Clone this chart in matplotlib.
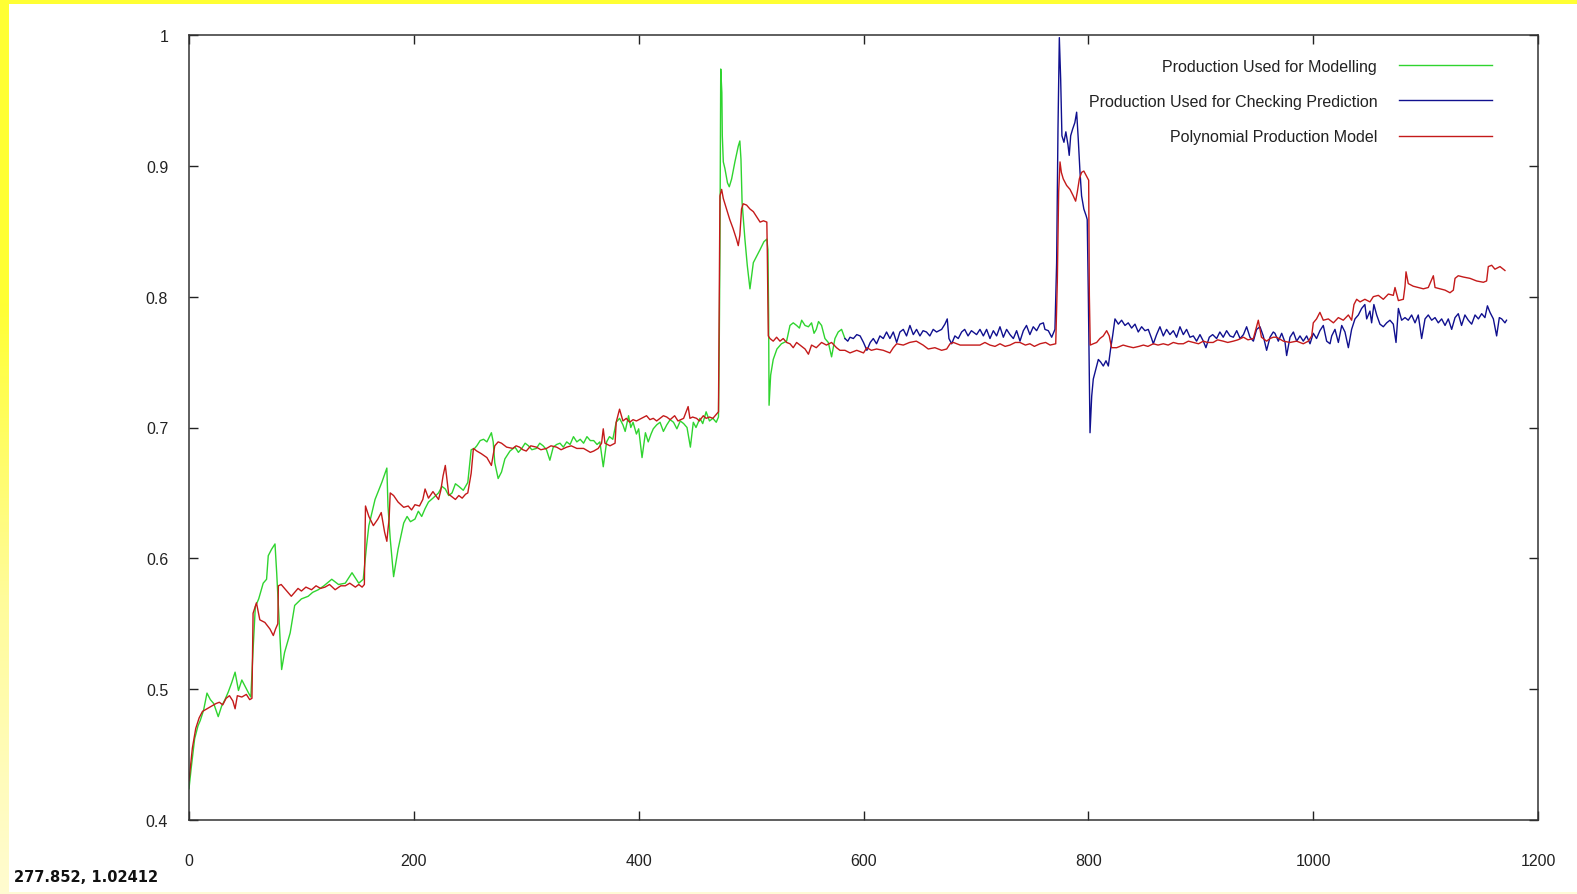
"""
Production vs polynomial production model (gnuplot-style output).
"""

import numpy as np
import matplotlib
matplotlib.use("Agg")
import matplotlib.pyplot as plt
from matplotlib.patches import Rectangle
from matplotlib.ticker import FuncFormatter, MultipleLocator

# ─── Data ─────────────────────────────────────────────────────────────────────
# (x, y) pairs
modelling_pts = [
    (0, 0.424), (2, 0.44), (5, 0.462), (8, 0.472), (10, 0.476), (13, 0.484),
    (16, 0.497), (19, 0.492), (22, 0.489), (26, 0.479), (29, 0.487), (32, 0.492),
    (35, 0.498), (38, 0.505), (41, 0.513), (44, 0.499), (47, 0.507), (50, 0.502),
    (53, 0.497), (55, 0.494), (57, 0.53), (59, 0.563), (62, 0.569), (66, 0.581),
    (69, 0.584), (70.5, 0.602), (73.5, 0.607), (76.5, 0.611), (78, 0.589),
    (81, 0.538), (82.4, 0.515), (85, 0.528), (90, 0.543), (94, 0.564),
    (100, 0.569), (106, 0.571), (110, 0.574), (115, 0.576), (120, 0.579),
    (127, 0.584), (133, 0.580), (139, 0.581), (145, 0.589), (151, 0.581),
    (155, 0.584), (158, 0.61), (160, 0.625), (165.5, 0.645), (171.5, 0.658),
    (176, 0.669), (177, 0.64), (179, 0.615), (182, 0.586), (186, 0.607),
    (191, 0.627), (194, 0.632), (197, 0.628), (201, 0.630), (204, 0.636),
    (207, 0.632), (210, 0.638), (213, 0.643), (217, 0.646), (222, 0.650),
    (225, 0.655), (228, 0.653), (231, 0.648), (234, 0.650), (237, 0.657),
    (240, 0.655), (244, 0.652), (248, 0.658), (251, 0.683), (254, 0.684),
    (256, 0.686), (259, 0.690), (262, 0.691), (265, 0.689), (269, 0.696),
    (270.6, 0.689), (272, 0.673), (275, 0.661), (278, 0.666), (281, 0.676),
    (285.5, 0.682), (290, 0.685), (293, 0.681), (296, 0.684), (299, 0.688),
    (302, 0.686), (305, 0.683), (309, 0.684), (312, 0.688), (315, 0.686),
    (318, 0.683), (321, 0.675), (324, 0.685), (327, 0.687), (330, 0.688),
    (333, 0.685), (336, 0.689), (339, 0.687), (342, 0.693), (345, 0.689),
    (348, 0.691), (351, 0.688), (354, 0.693), (357, 0.690), (360, 0.690),
    (363, 0.687), (365.5, 0.689), (368.5, 0.670), (371.5, 0.689), (374, 0.693),
    (377, 0.691), (380, 0.704), (383, 0.707), (386, 0.702), (388, 0.697),
    (391, 0.709), (393, 0.700), (395, 0.704), (398, 0.695), (400, 0.699),
    (403, 0.677), (406, 0.696), (408.5, 0.689), (411, 0.695), (413, 0.699),
    (416, 0.702), (419, 0.704), (422, 0.697), (425, 0.702), (428, 0.706),
    (431, 0.704), (434, 0.699), (437, 0.705), (440, 0.703), (443, 0.700),
    (446, 0.685), (448.6, 0.704), (451, 0.700), (454.5, 0.707), (457, 0.703),
    (460, 0.712), (463, 0.705), (466, 0.707), (469, 0.704), (471, 0.708),
    (471.7, 0.765), (472.3, 0.837), (473, 0.974), (474, 0.956), (474.4, 0.923),
    (475.3, 0.903), (476.7, 0.898), (479, 0.887), (480.6, 0.884), (482.7, 0.890),
    (485.6, 0.903), (488.6, 0.915), (490, 0.919), (491, 0.905), (492, 0.872),
    (494.5, 0.844), (496.6, 0.824), (499, 0.806), (502, 0.826), (505, 0.831),
    (508, 0.836), (511.4, 0.842), (514, 0.844), (515, 0.836), (515.6, 0.786),
    (516, 0.717), (517.4, 0.740), (519.7, 0.752), (523, 0.760), (527, 0.764),
    (531.6, 0.766), (534.6, 0.778), (537.5, 0.780), (540.5, 0.778), (543, 0.776),
    (545, 0.782), (548, 0.778), (551, 0.777), (553.8, 0.780), (556, 0.772),
    (558, 0.775), (560, 0.781), (562.7, 0.778), (565.7, 0.768), (568.7, 0.765),
    (571.6, 0.754), (574.6, 0.768), (577.5, 0.773), (580.5, 0.775), (583.5, 0.768),
]

checking_pts = [
    (583.5, 0.768), (586, 0.766), (588, 0.769), (591, 0.768), (594, 0.771),
    (597, 0.770), (600, 0.765), (603, 0.759), (606, 0.765), (608.7, 0.768),
    (611.6, 0.764), (614.6, 0.770), (617.6, 0.768), (620.5, 0.773), (623.5, 0.768),
    (626.5, 0.773), (629.5, 0.765), (632.4, 0.773), (635.4, 0.775), (638.3, 0.770),
    (641.3, 0.778), (644.3, 0.771), (647.2, 0.775), (650.2, 0.770), (653, 0.774),
    (656, 0.773), (659, 0.770), (662, 0.775), (665, 0.773), (669.5, 0.775),
    (672.4, 0.779), (674.5, 0.783), (676, 0.768), (678.4, 0.764), (681.3, 0.770),
    (684.3, 0.768), (687.3, 0.773), (690, 0.775), (693, 0.770), (696, 0.774),
    (700.6, 0.771), (703.6, 0.775), (706.6, 0.770), (709.5, 0.775), (712.5, 0.768),
    (715.5, 0.774), (718.4, 0.770), (721.4, 0.777), (724.4, 0.769), (727.3, 0.775),
    (730.3, 0.771), (733.3, 0.768), (736.2, 0.774), (739.2, 0.766), (742.2, 0.774),
    (745, 0.778), (748, 0.771), (751, 0.777), (754, 0.774), (757, 0.779),
    (760, 0.780), (761.4, 0.775), (764.4, 0.774), (767.4, 0.769), (770.3, 0.775),
    (771.8, 0.826), (773, 0.928), (774.2, 0.998), (775.4, 0.966), (776.5, 0.923),
    (778.3, 0.918), (780, 0.926), (781.9, 0.916), (783, 0.908), (784.3, 0.923),
    (786, 0.928), (788, 0.933), (789.6, 0.941), (791, 0.921), (792.6, 0.895),
    (794, 0.877), (796, 0.867), (798, 0.862), (799, 0.859), (800, 0.801),
    (801.5, 0.696), (803, 0.724), (804.4, 0.737), (806.8, 0.745), (808.9, 0.752),
    (811, 0.750), (813.3, 0.747), (815.7, 0.751), (817.8, 0.747), (819.8, 0.760),
    (821.6, 0.770), (823.7, 0.783), (826.7, 0.779), (829.6, 0.782), (832.6, 0.778),
    (835.5, 0.780), (838.5, 0.776), (841.5, 0.779), (844.4, 0.773), (847.4, 0.777),
    (850.4, 0.774), (853.3, 0.775), (856.3, 0.768), (857.8, 0.764), (860.7, 0.771),
    (863.7, 0.777), (866.7, 0.770), (869.6, 0.775), (872.6, 0.771), (875.6, 0.774),
    (878.5, 0.769), (881.5, 0.777), (884.5, 0.771), (887.4, 0.775), (890.4, 0.769),
    (893.4, 0.770), (896.3, 0.766), (899.3, 0.771), (902.3, 0.766), (904.6, 0.761),
    (907.6, 0.769), (910.6, 0.771), (914.1, 0.768), (917, 0.773), (920, 0.769),
    (923, 0.774), (926, 0.770), (929, 0.769), (932, 0.774), (935, 0.768),
    (938, 0.771), (940.8, 0.777), (943.8, 0.769), (946.8, 0.766), (949.7, 0.775),
    (952.7, 0.777), (955.6, 0.770), (958.6, 0.759), (961.6, 0.769), (964.5, 0.773),
    (966, 0.772), (969, 0.766), (972, 0.772), (975, 0.765), (976.4, 0.755),
    (979.4, 0.769), (982.4, 0.773), (985.3, 0.766), (988.3, 0.770), (991.2, 0.766),
    (994.2, 0.770), (997.2, 0.764), (1000.1, 0.772), (1003, 0.768), (1006, 0.774),
    (1009, 0.778), (1012, 0.766), (1015, 0.764), (1016.5, 0.770), (1019.4, 0.775),
    (1022.4, 0.765), (1025.4, 0.778), (1028.3, 0.773), (1031.3, 0.761), (1034.2, 0.775),
    (1037.2, 0.783), (1040.2, 0.786), (1043.1, 0.791), (1046, 0.794), (1047.6, 0.783),
    (1050.5, 0.789), (1052, 0.780), (1054, 0.794), (1056.5, 0.786), (1059.4, 0.779),
    (1062.4, 0.777), (1065.4, 0.780), (1068.3, 0.782), (1071.3, 0.779), (1073.7, 0.765),
    (1075.8, 0.791), (1078.7, 0.782), (1081.7, 0.784), (1084.6, 0.782), (1087.6, 0.786),
    (1090.6, 0.780), (1093.5, 0.786), (1096.5, 0.768), (1099.5, 0.783), (1102.4, 0.786),
    (1105.4, 0.782), (1108.4, 0.784), (1111.3, 0.780), (1114.3, 0.783), (1117.3, 0.778),
    (1120.2, 0.783), (1123.2, 0.775), (1126.2, 0.784), (1129.1, 0.787), (1132, 0.778),
    (1135, 0.786), (1138, 0.782), (1141, 0.779), (1144, 0.786), (1147, 0.783),
    (1149.9, 0.787), (1152.8, 0.784), (1155, 0.793), (1157.3, 0.788), (1160.3, 0.783),
    (1163.2, 0.770), (1165.6, 0.784), (1167.7, 0.783), (1170.6, 0.780), (1172, 0.782),
]

model_pts = [
    (0, 0.43), (3, 0.455), (6, 0.47), (9, 0.478), (12, 0.483), (16, 0.485),
    (20, 0.487), (24, 0.489), (27, 0.490), (30, 0.488), (33, 0.493), (36, 0.495),
    (39, 0.491), (41, 0.485), (43, 0.495), (47, 0.494), (51, 0.496), (54, 0.492),
    (56, 0.493), (57, 0.558), (60, 0.566), (63, 0.553), (67.5, 0.551), (72, 0.546),
    (75, 0.541), (77, 0.546), (79, 0.55), (79.5, 0.579), (82, 0.580), (85, 0.577),
    (88, 0.574), (91, 0.571), (94, 0.574), (97, 0.577), (100, 0.575), (104, 0.578),
    (109, 0.576), (113, 0.579), (117, 0.577), (121, 0.578), (125, 0.580), (130, 0.576),
    (135, 0.579), (139, 0.579), (143, 0.581), (148, 0.578), (151, 0.580), (154, 0.578),
    (156, 0.58), (157, 0.640), (160, 0.632), (164, 0.625), (168, 0.630), (171, 0.635),
    (174, 0.620), (176, 0.613), (177, 0.622), (178, 0.63), (179, 0.650), (182, 0.648),
    (186, 0.643), (191, 0.639), (195, 0.640), (198, 0.637), (201, 0.641), (205, 0.640),
    (208, 0.645), (210, 0.653), (213, 0.646), (217, 0.651), (222, 0.645), (224, 0.652),
    (226, 0.663), (228, 0.671), (231, 0.649), (234, 0.647), (237, 0.645), (240, 0.648),
    (243, 0.646), (246, 0.649), (248, 0.650), (251, 0.665), (253, 0.684), (256, 0.682),
    (260, 0.680), (265, 0.677), (269, 0.671), (270.6, 0.679), (272, 0.686), (275, 0.689),
    (278, 0.688), (282.5, 0.685), (288, 0.684), (291, 0.686), (294, 0.685), (297, 0.683),
    (300, 0.682), (304, 0.686), (309, 0.685), (313, 0.683), (318, 0.684), (322, 0.686),
    (327, 0.685), (331, 0.683), (336, 0.685), (340, 0.686), (345, 0.684), (351, 0.684),
    (357, 0.681), (360, 0.682), (364, 0.684), (367, 0.688), (368.5, 0.699), (370, 0.688),
    (374.5, 0.686), (379, 0.688), (380, 0.704), (383, 0.714), (386, 0.705), (389, 0.707),
    (392, 0.704), (395, 0.706), (398, 0.705), (402.6, 0.707), (407, 0.709), (410, 0.706),
    (413, 0.707), (416, 0.705), (419, 0.707), (422, 0.709), (425, 0.708), (428, 0.706),
    (432, 0.709), (435, 0.705), (440, 0.707), (444, 0.716), (445.6, 0.707), (448, 0.708),
    (451.5, 0.707), (454, 0.705), (457.5, 0.709), (460, 0.707), (463, 0.708), (466, 0.707),
    (468, 0.709), (471, 0.712), (472.3, 0.877), (473.8, 0.882), (475.3, 0.875),
    (478.2, 0.867), (481, 0.859), (484, 0.852), (487, 0.844), (488.6, 0.839), (490, 0.847),
    (491.5, 0.867), (493, 0.871), (496, 0.870), (499, 0.867), (502, 0.865), (505, 0.861),
    (508, 0.857), (511, 0.858), (514, 0.857), (514.4, 0.836), (515.3, 0.770),
    (516.8, 0.768), (519.7, 0.766), (522.7, 0.769), (525.7, 0.766), (528.6, 0.768),
    (531.6, 0.765), (534.6, 0.764), (537.5, 0.761), (540.5, 0.765), (543.5, 0.763),
    (548, 0.760), (551, 0.756), (553.8, 0.763), (558, 0.761), (562.7, 0.765), (567, 0.763),
    (571.6, 0.765), (576, 0.761), (579, 0.759), (583.5, 0.759), (588, 0.757), (594, 0.759),
    (600, 0.757), (603, 0.761), (607, 0.759), (611.6, 0.760), (617.6, 0.759), (623.5, 0.757),
    (626.5, 0.761), (629.5, 0.764), (635.4, 0.763), (641, 0.765), (647, 0.766), (653, 0.763),
    (657.6, 0.760), (663.5, 0.761), (669.5, 0.759), (674, 0.760), (677, 0.764), (680, 0.765),
    (686, 0.763), (691.7, 0.763), (700.6, 0.763), (703.6, 0.763), (708, 0.765),
    (712.5, 0.763), (717, 0.762), (721.4, 0.764), (726, 0.762), (730.3, 0.763), (735, 0.765),
    (739.2, 0.765), (744, 0.763), (748, 0.764), (752, 0.762), (757, 0.764), (762, 0.765),
    (766, 0.763), (771, 0.764), (772.4, 0.811), (773.6, 0.880), (774.8, 0.903), (776, 0.895),
    (777.7, 0.890), (780.7, 0.885), (783.7, 0.882), (786.6, 0.877), (788.7, 0.873),
    (790.2, 0.880), (792, 0.890), (794, 0.895), (796, 0.896), (798.5, 0.892), (800.3, 0.889),
    (800.9, 0.801), (801.7, 0.763), (804.4, 0.764), (807.4, 0.765), (810.3, 0.768),
    (813.3, 0.770), (816.3, 0.774), (818.6, 0.770), (820.7, 0.761), (825.2, 0.761),
    (831, 0.763), (835, 0.762), (840, 0.761), (845, 0.762), (849, 0.763), (853, 0.762),
    (857.8, 0.764), (862, 0.763), (866.7, 0.764), (871, 0.763), (875.6, 0.765), (880, 0.764),
    (884.5, 0.764), (889, 0.766), (893.4, 0.765), (898, 0.764), (902.3, 0.766), (906, 0.765),
    (911, 0.765), (915, 0.767), (920, 0.766), (924, 0.765), (929, 0.766), (933, 0.767),
    (938, 0.769), (942, 0.767), (946.8, 0.768), (951.2, 0.782), (954, 0.769), (958.6, 0.766),
    (961.6, 0.768), (964.5, 0.769), (967.5, 0.769), (973.5, 0.766), (979.4, 0.765),
    (985.3, 0.766), (991.2, 0.764), (995.7, 0.766), (998.7, 0.770), (1000.1, 0.780),
    (1003, 0.783), (1006, 0.788), (1009, 0.782), (1013.5, 0.783), (1018, 0.780),
    (1022.4, 0.784), (1026.8, 0.782), (1031.3, 0.786), (1034.2, 0.782), (1036.3, 0.794),
    (1038.7, 0.798), (1041.7, 0.796), (1046, 0.798), (1050.5, 0.796), (1053.5, 0.800),
    (1058, 0.801), (1062.4, 0.798), (1066.9, 0.802), (1071.3, 0.801), (1072.8, 0.807),
    (1075.8, 0.797), (1080.2, 0.798), (1081.7, 0.808), (1082.6, 0.819), (1084.6, 0.810),
    (1089, 0.808), (1093.5, 0.807), (1098, 0.806), (1102.4, 0.807), (1106.9, 0.816),
    (1108.4, 0.807), (1112.8, 0.806), (1117.3, 0.805), (1121.7, 0.803), (1124.7, 0.805),
    (1126.2, 0.814), (1129.1, 0.816), (1133.6, 0.815), (1139.5, 0.814), (1145.4, 0.812),
    (1151.4, 0.811), (1154.3, 0.812), (1155.8, 0.823), (1158.8, 0.824), (1161.7, 0.821),
    (1166.2, 0.823), (1170.6, 0.820),
]

labels = ["Production Used for Modelling",
          "Production Used for Checking Prediction",
          "Polynomial Production Model"]
colors = ["#2fd42f", "#10108f", "#c41a1a"]
status_text = "277.852, 1.02412"

# ─── Figure ───────────────────────────────────────────────────────────────────
W, H = 1577, 895
plt.rcParams["font.family"] = ["Liberation Sans", "DejaVu Sans"]
fig = plt.figure(figsize=(W / 100, H / 100), dpi=100, facecolor="white")

# yellow window border (top and left), pale strip at bottom
fig.add_artist(Rectangle((0, 1 - 5 / H), 1, 5 / H, transform=fig.transFigure,
                         facecolor="#ffff33", edgecolor="none", zorder=0))
fig.add_artist(Rectangle((0, 0), 1, 2 / H, transform=fig.transFigure,
                         facecolor="#fffbd6", edgecolor="none", zorder=0))
strip = fig.add_axes([0, 0, 9 / W, 1 - 5 / H])
grad = np.linspace(0, 1, 256)[:, None]
strip.imshow(grad, aspect="auto", origin="lower",
             cmap=matplotlib.colors.LinearSegmentedColormap.from_list(
                 "edge", ["#fffbd0", "#fffb9a", "#ffff33", "#ffff33"]))
strip.set_axis_off()

ax = fig.add_axes([189 / W, (H - 821) / H, (1538 - 189) / W, (821 - 36) / H])

for pts, lab, col in zip([modelling_pts, checking_pts, model_pts], labels, colors):
    arr = np.array(pts)
    ax.plot(arr[:, 0], arr[:, 1], color=col, lw=1.0, label=lab)

ax.set_xlim(0, 1200)
ax.set_ylim(0.4, 1.0)
ax.xaxis.set_major_locator(MultipleLocator(200))
ax.yaxis.set_major_locator(MultipleLocator(0.1))
ax.yaxis.set_major_formatter(FuncFormatter(lambda v, p: f"{v:g}"))

ax.tick_params(direction="in", length=6.5, width=1.0, color="#222222",
               top=True, right=True, labelsize=11.5, labelcolor="#222222")
ax.tick_params(axis="y", pad=15)
ax.tick_params(axis="x", pad=24)
for sp in ax.spines.values():
    sp.set_color("#333333")
    sp.set_linewidth(1.1)

leg = ax.legend(loc="upper right", bbox_to_anchor=(0.966, 0.970), frameon=False,
                markerfirst=False, fontsize=11.5, handlelength=5.8,
                handletextpad=1.4, labelspacing=1.27, borderpad=0, borderaxespad=0)
for t in leg.get_texts():
    t.set_color("#222222")

fig.text(14 / W, (H - 878) / H, status_text, fontsize=10.5, fontweight="bold",
         family="DejaVu Sans", va="center", ha="left", color="#111111")

fig.savefig("out.png", dpi=100, facecolor="white")
